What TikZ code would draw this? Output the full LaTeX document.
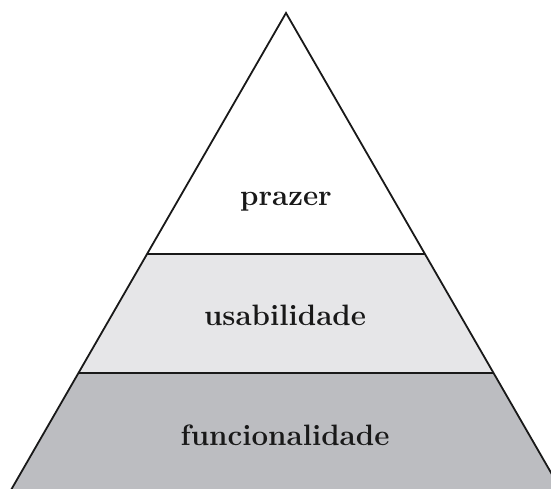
\documentclass[tikz,border=0pt]{standalone}
\usetikzlibrary{calc}
\definecolor{bandlight}{HTML}{E6E6E8}
\definecolor{banddark}{HTML}{BCBDC1}
\tikzset{
  edge/.style={line width=1.8pt, black!90},
  label/.style={inner sep=0pt, anchor=base, font=\fontsize{29.5}{35}\selectfont\bfseries, text=black!90}
}
\begin{document}
\begin{tikzpicture}[x=1pt,y=-1pt]
  \useasboundingbox (0,0) rectangle (551,489);
  \clip (0,0) rectangle (551,489);
  % corners of the pyramid and the cuts between its layers
  \coordinate (apex) at (286,13);
  \coordinate (bl) at (11,490);
  \coordinate (br) at (561,490);
  \coordinate (ul) at ($(apex)!{241/477}!(bl)$);
  \coordinate (ur) at ($(apex)!{241/477}!(br)$);
  \coordinate (ml) at ($(apex)!{360/477}!(bl)$);
  \coordinate (mr) at ($(apex)!{360/477}!(br)$);
  % layer fills
  \fill[banddark] (ml) -- (mr) -- (br) -- (bl) -- cycle;
  \fill[bandlight] (ul) -- (ur) -- (mr) -- (ml) -- cycle;
  % outline and dividers
  \draw[edge, line join=miter] (bl) -- (apex) -- (br);
  \draw[edge] (ul) -- (ur);
  \draw[edge] (ml) -- (mr);
  % layer names
  \node[label] (top) at (286,205) {prazer};
  \node[label] (mid) at (285,325) {usabilidade};
  \node[label] (bot) at (285,445) {funcionalidade};
\end{tikzpicture}
\end{document}
